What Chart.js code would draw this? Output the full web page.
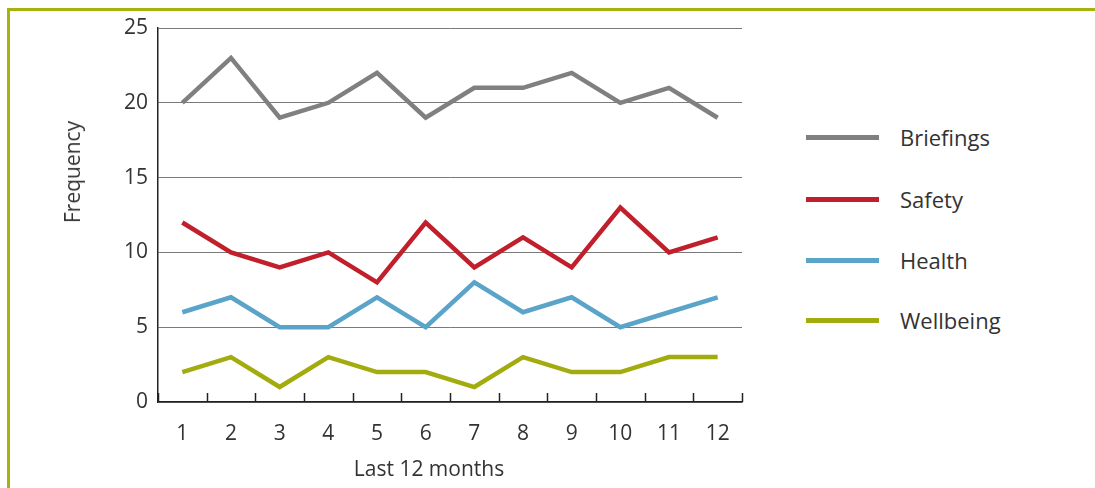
<!DOCTYPE html>
<html>
<head>
<meta charset="utf-8">
<script src="https://cdn.jsdelivr.net/npm/chart.js@4"></script>
<style>
    html, body { margin: 0; padding: 0; background: #fff; }
    body { width: 1095px; height: 488px; position: relative; overflow: hidden; font-family: "Open Sans", sans-serif; color: #333; }
    .frame { position: absolute; left: 7px; top: 8px; width: 1100px; height: 500px; border-left: 3px solid #a8b20c; border-top: 3px solid #a8b20c; }
    #chart { position: absolute; left: 0; top: 0; }
    .ytitle { position: absolute; left: 72px; top: 172px; transform: translate(-50%, -50%) rotate(-90deg); font-size: 21px; white-space: nowrap; }
    .xtitle { position: absolute; left: 429px; top: 468px; transform: translate(-50%, -50%); font-size: 21px; white-space: nowrap; }
    .legend { position: absolute; left: 806px; top: 0; }
    .legend .item { position: absolute; left: 0; width: 260px; height: 30px; }
    .legend .swatch { position: absolute; left: 0; top: 13px; width: 73px; height: 5px; }
    .legend .label { position: absolute; left: 94px; top: 0; font-size: 22px; line-height: 30px; white-space: nowrap; }
</style>
</head>
<body>
<div class="frame"></div>
<canvas id="chart" width="760" height="488"></canvas>
<div class="ytitle">Frequency</div>
<div class="xtitle">Last 12 months</div>
<div class="legend" id="legend"></div>
<script>
const months    = ["1", "2", "3", "4", "5", "6", "7", "8", "9", "10", "11", "12"];
const briefings = [20, 23, 19, 20, 22, 19, 21, 21, 22, 20, 21, 19];
const safety    = [12, 10, 9, 10, 8, 12, 9, 11, 9, 13, 10, 11];
const health    = [6, 7, 5, 5, 7, 5, 8, 6, 7, 5, 6, 7];
const wellbeing = [2, 3, 1, 3, 2, 2, 1, 3, 2, 2, 3, 3];

const series = [
    { label: "Briefings", data: briefings, color: "#808080" },
    { label: "Safety",    data: safety,    color: "#c01f2b" },
    { label: "Health",    data: health,    color: "#5aa3c9" },
    { label: "Wellbeing", data: wellbeing, color: "#a3ac0e" },
];

const FONT = { family: "'Open Sans', sans-serif", size: 21 };

/* little tick marks pointing up into the plot, between the months */
const innerTicks = {
    id: "innerTicks",
    afterDraw(chart) {
        const x = chart.scales.x, y = chart.scales.y;
        const ctx = chart.ctx;
        ctx.save();
        ctx.strokeStyle = "#222";
        ctx.lineWidth = 1.5;
        for (let i = 0; i <= months.length; i++) {
            const px = Math.round(x.getPixelForValue(i - 0.5)) + 0.5;
            ctx.beginPath();
            ctx.moveTo(px, y.bottom);
            ctx.lineTo(px, y.bottom - 9);
            ctx.stroke();
        }
        ctx.restore();
    }
};

new Chart(document.getElementById("chart"), {
    type: "line",
    data: {
        labels: months,
        datasets: series.map(s => ({
            label: s.label,
            data: s.data,
            borderColor: s.color,
            backgroundColor: s.color,
            borderWidth: 4.5,
            pointRadius: 0,
            tension: 0,
            fill: false,
        }))
    },
    options: {
        responsive: false,
        animation: false,
        devicePixelRatio: 1,
        layout: { padding: { top: 28, right: 18, left: 0, bottom: 0 } },
        plugins: { legend: { display: false }, tooltip: { enabled: false } },
        scales: {
            x: {
                offset: true,
                grid: { display: false },
                border: { display: true, color: "#222", width: 1.5 },
                ticks: { color: "#333", font: FONT, padding: 11, maxRotation: 0 },
                afterFit: s => { s.height = 86; }
            },
            y: {
                min: 0,
                max: 25,
                grid: { color: "#7a7a7a", lineWidth: 1, drawTicks: false },
                border: { display: true, color: "#222", width: 1.5 },
                ticks: { stepSize: 5, color: "#333", font: FONT, padding: 10 },
                afterFit: s => { s.width = 158; }
            }
        }
    },
    plugins: [innerTicks]
});

/* legend on the right */
const legendY = [137, 199, 260, 320];
const legend = document.getElementById("legend");
series.forEach((s, i) => {
    const item = document.createElement("div");
    item.className = "item";
    item.style.top = (legendY[i] - 15) + "px";
    item.innerHTML = `<div class="swatch" style="background:${s.color}"></div><div class="label">${s.label}</div>`;
    legend.appendChild(item);
});
</script>
</body>
</html>
